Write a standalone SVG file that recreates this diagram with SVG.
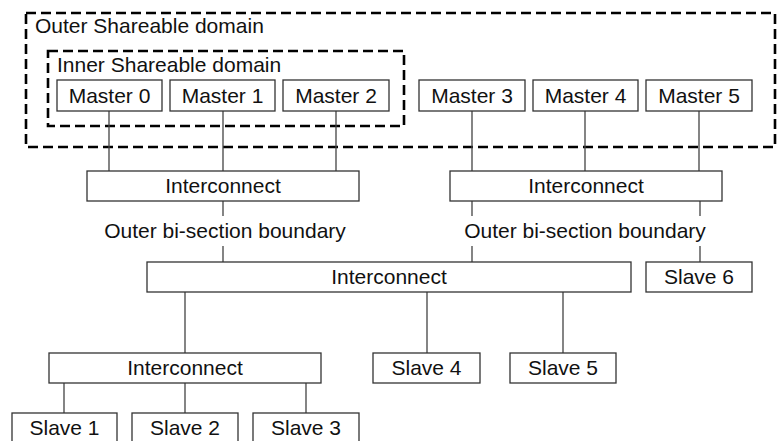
<svg xmlns="http://www.w3.org/2000/svg" width="783" height="441" viewBox="0 0 783 441">
<style>
.box{fill:#fff;stroke:#333;stroke-width:1.3}
.dash{fill:none;stroke:#000;stroke-width:2.6;stroke-dasharray:10,5}
.ln{fill:none;stroke:#444;stroke-width:1.3}
text{font-family:"Liberation Sans",Arial,sans-serif;font-size:21px;fill:#111}
.c{text-anchor:middle}
</style>
<rect width="783" height="441" fill="#fff"/>
<g id="outer-domain">
<rect class="dash" x="26" y="13" width="749" height="134"/>
<text x="35" y="33">Outer Shareable domain</text>
</g>
<g id="inner-domain">
<rect class="dash" x="48" y="51" width="356" height="75"/>
<text x="57" y="72">Inner Shareable domain</text>
</g>
<g id="connectors">
<path class="ln" d="M109 111V171M223 111V171M336 111V171M472 111V171M585 111V171M699 111V171"/>
<path class="ln" d="M223 201V216M223 246V262M472 201V216M472 246V262M700 201V216M700 246V262"/>
<path class="ln" d="M185 292V353M427 292V353M563 292V353"/>
<path class="ln" d="M64 383V413M185 383V413M306 383V413"/>
</g>
<g id="master0"><rect class="box" x="57" y="80" width="105" height="31"/><text class="c" x="109.5" y="103">Master 0</text></g>
<g id="master1"><rect class="box" x="170" y="80" width="105" height="31"/><text class="c" x="222.5" y="103">Master 1</text></g>
<g id="master2"><rect class="box" x="283" y="80" width="106" height="31"/><text class="c" x="336" y="103">Master 2</text></g>
<g id="master3"><rect class="box" x="419" y="80" width="106" height="31"/><text class="c" x="472" y="103">Master 3</text></g>
<g id="master4"><rect class="box" x="533" y="80" width="105" height="31"/><text class="c" x="585.5" y="103">Master 4</text></g>
<g id="master5"><rect class="box" x="646" y="80" width="106" height="31"/><text class="c" x="699" y="103">Master 5</text></g>
<g id="interconnect1"><rect class="box" x="87" y="171" width="272" height="30"/><text class="c" x="223" y="193">Interconnect</text></g>
<g id="interconnect2"><rect class="box" x="450" y="171" width="272" height="30"/><text class="c" x="586" y="193">Interconnect</text></g>
<g id="boundary-left"><text class="c" x="225" y="238">Outer bi-section boundary</text></g>
<g id="boundary-right"><text class="c" x="585" y="238">Outer bi-section boundary</text></g>
<g id="interconnect-main"><rect class="box" x="147" y="262" width="484" height="30"/><text class="c" x="389" y="284">Interconnect</text></g>
<g id="slave6"><rect class="box" x="646" y="262" width="106" height="30"/><text class="c" x="699" y="284">Slave 6</text></g>
<g id="interconnect3"><rect class="box" x="49" y="353" width="272" height="30"/><text class="c" x="185" y="375">Interconnect</text></g>
<g id="slave4"><rect class="box" x="373" y="353" width="107" height="30"/><text class="c" x="426.5" y="375">Slave 4</text></g>
<g id="slave5"><rect class="box" x="510" y="353" width="106" height="30"/><text class="c" x="563" y="375">Slave 5</text></g>
<g id="slave1"><rect class="box" x="12" y="413" width="105" height="32"/><text class="c" x="64.5" y="435">Slave 1</text></g>
<g id="slave2"><rect class="box" x="132" y="413" width="106" height="32"/><text class="c" x="185" y="435">Slave 2</text></g>
<g id="slave3"><rect class="box" x="253" y="413" width="106" height="32"/><text class="c" x="306" y="435">Slave 3</text></g>
</svg>
